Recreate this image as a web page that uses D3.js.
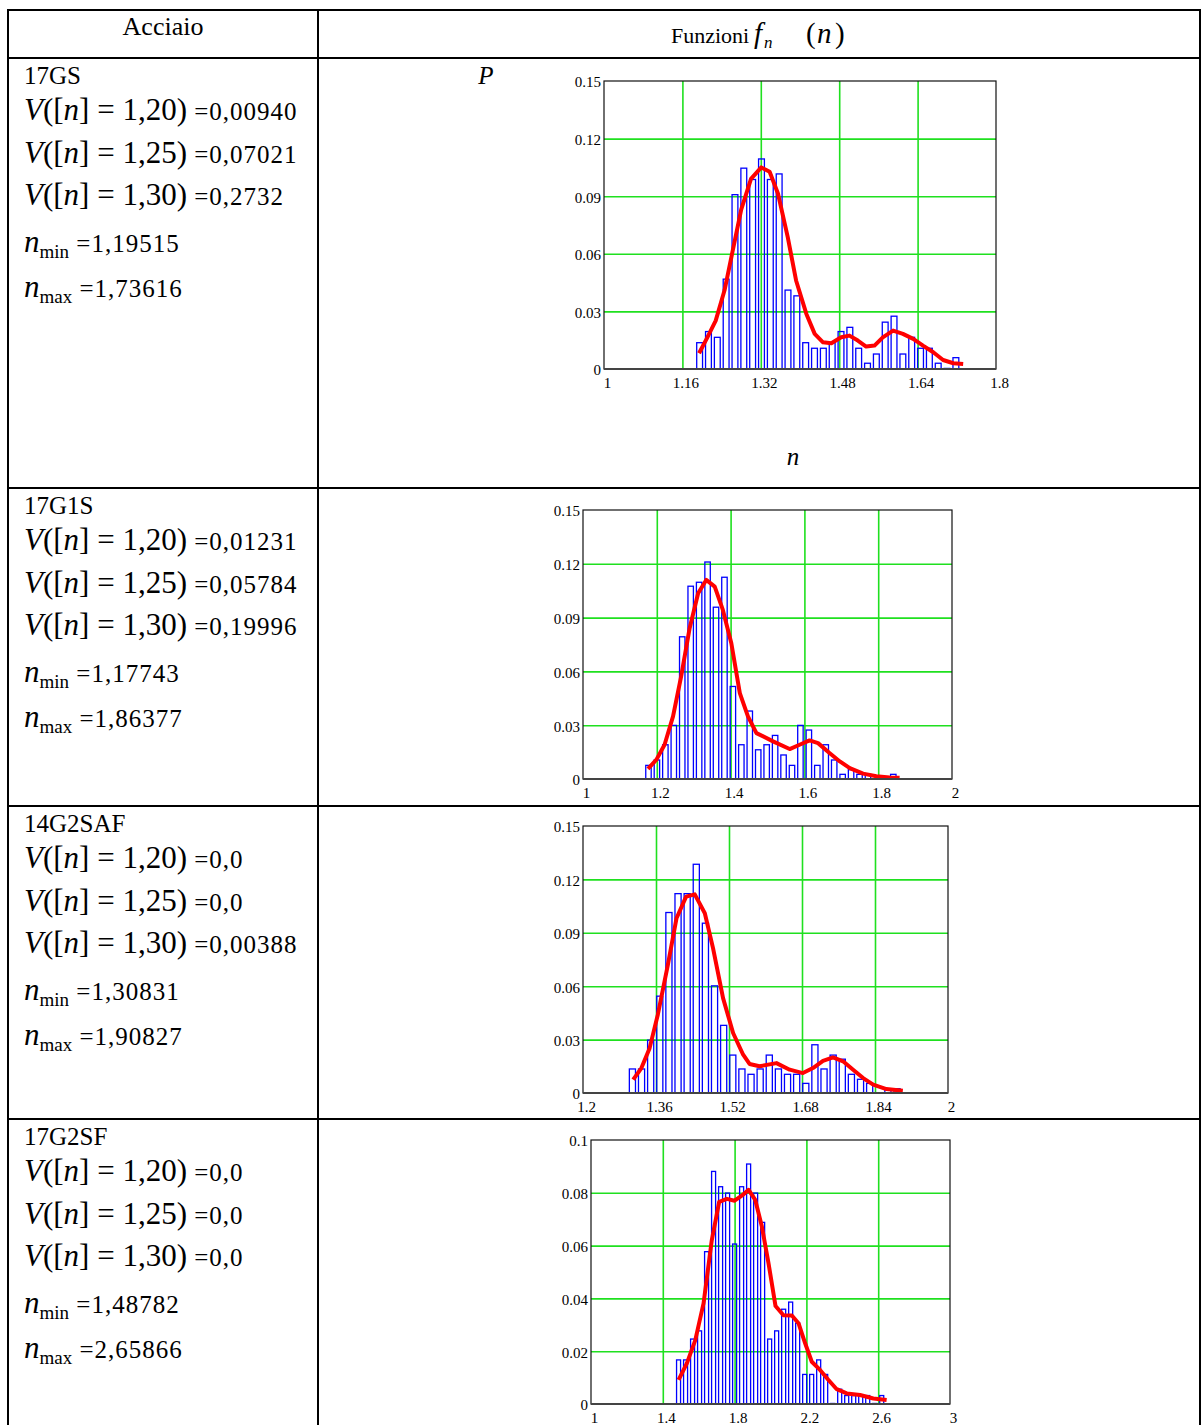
<!DOCTYPE html>
<html>
<head>
<meta charset="utf-8">
<script src="https://cdn.jsdelivr.net/npm/d3@7"></script>
<style>
  body { margin: 0; background: #fff; }
  svg { display: block; }
  text { font-family: "Liberation Serif", "Times New Roman", serif; fill: #000; }
</style>
</head>
<body>
<script>
// ---- data ----
var steels = ["17GS", "17G1S", "14G2SAF", "17G2SF"];
var v120 = ["0,00940", "0,01231", "0,0", "0,0"];
var v125 = ["0,07021", "0,05784", "0,0", "0,0"];
var v130 = ["0,2732", "0,19996", "0,00388", "0,0"];
var nMin = [1.19515, 1.17743, 1.30831, 1.48782];
var nMax = [1.73616, 1.86377, 1.90827, 2.65866];

// histogram heights (30 classes each)
var hist17GS = [0.0137, 0.0195, 0.0165, 0.0468, 0.0908, 0.1046, 0.0987, 0.1094, 0.0987, 0.1016,
  0.0411, 0.0381, 0.0137, 0.0108, 0.0108, 0.0137, 0.0195, 0.0217, 0.0108, 0.0030,
  0.0078, 0.0244, 0.0275, 0.0078, 0.0165, 0.0108, 0.0108, 0.0030, 0.0003, 0.0059];
var hist17G1S = [0.0076, 0.0106, 0.0191, 0.0299, 0.0793, 0.1075, 0.1097, 0.1210, 0.0958, 0.1125,
  0.0516, 0.0191, 0.0379, 0.0163, 0.0191, 0.0243, 0.0134, 0.0076, 0.0299, 0.0273,
  0.0076, 0.0191, 0.0106, 0.0026, 0.0052, 0.0026, 0.0026, 0.0002, 0.0002, 0.0026];
var hist14G2SAF = [0.0135, 0.0135, 0.0297, 0.0544, 0.1014, 0.1120, 0.1120, 0.1285, 0.0954, 0.0602,
  0.0380, 0.0213, 0.0135, 0.0105, 0.0135, 0.0213, 0.0135, 0.0105, 0.0105, 0.0054,
  0.0271, 0.0135, 0.0213, 0.0190, 0.0105, 0.0077, 0.0054, 0.0002, 0.0024, 0.0024];
var hist17G2SF = [0.0167, 0.0167, 0.0246, 0.0277, 0.0577, 0.0881, 0.0823, 0.0799, 0.0606, 0.0823,
  0.0909, 0.0799, 0.0688, 0.0246, 0.0277, 0.0359, 0.0386, 0.0306, 0.0112, 0.0112,
  0.0167, 0.0112, 0.0002, 0.0056, 0.0032, 0.0032, 0.0032, 0.0032, 0.0002, 0.0032];

// smoothed density curves [n, P]
var curve17GS = [[1.194, 0.0082], [1.211, 0.0165], [1.228, 0.0252], [1.246, 0.041], [1.263, 0.062],
  [1.280, 0.083], [1.300, 0.099], [1.321, 0.105], [1.338, 0.1027], [1.355, 0.0914], [1.375, 0.0687],
  [1.392, 0.0461], [1.413, 0.0287], [1.430, 0.0183], [1.447, 0.0139], [1.464, 0.0134], [1.484, 0.0165],
  [1.501, 0.0174], [1.518, 0.0148], [1.535, 0.0117], [1.552, 0.0122], [1.569, 0.0165], [1.590, 0.020],
  [1.610, 0.0183], [1.631, 0.0157], [1.651, 0.0122], [1.672, 0.0087], [1.692, 0.0047], [1.713, 0.003],
  [1.733, 0.0026]];
var curve17G1S = [[1.176, 0.0056], [1.199, 0.0108], [1.221, 0.0191], [1.244, 0.0349], [1.266, 0.0572],
  [1.289, 0.0841], [1.312, 0.1036], [1.334, 0.111], [1.357, 0.1073], [1.379, 0.0943], [1.402, 0.0757],
  [1.425, 0.0479], [1.447, 0.0349], [1.470, 0.0256], [1.515, 0.021], [1.560, 0.0167], [1.587, 0.0191],
  [1.614, 0.0215], [1.637, 0.020], [1.668, 0.0145], [1.696, 0.0098], [1.723, 0.0061], [1.759, 0.003],
  [1.795, 0.0015], [1.831, 0.0009], [1.858, 0.0007]];
var curve14G2SAF = [[1.310, 0.0075], [1.328, 0.014], [1.346, 0.0252], [1.364, 0.044], [1.386, 0.072],
  [1.405, 0.0982], [1.426, 0.1103], [1.445, 0.1116], [1.467, 0.101], [1.485, 0.0814], [1.507, 0.0533],
  [1.529, 0.0337], [1.551, 0.0215], [1.565, 0.0163], [1.587, 0.015], [1.624, 0.0168], [1.653, 0.0131],
  [1.682, 0.0112], [1.704, 0.014], [1.726, 0.0181], [1.748, 0.020], [1.770, 0.0178], [1.792, 0.0131],
  [1.814, 0.0084], [1.836, 0.0047], [1.865, 0.0022], [1.901, 0.0013]];
var curve17G2SF = [[1.488, 0.0091], [1.534, 0.0154], [1.581, 0.0242], [1.627, 0.0381], [1.673, 0.0621],
  [1.714, 0.0766], [1.757, 0.0777], [1.800, 0.077], [1.840, 0.0789], [1.878, 0.0811], [1.915, 0.0773],
  [1.952, 0.0672], [1.989, 0.0533], [2.028, 0.0371], [2.072, 0.0336], [2.119, 0.0335], [2.156, 0.0306],
  [2.193, 0.023], [2.230, 0.016], [2.276, 0.0129], [2.323, 0.0091], [2.369, 0.0056], [2.425, 0.004],
  [2.499, 0.0034], [2.573, 0.0021], [2.647, 0.0015]];

var xTicks1 = [1, 1.16, 1.32, 1.48, 1.64, 1.8];
var xTicks2 = [1, 1.2, 1.4, 1.6, 1.8, 2];
var xTicks3 = [1.2, 1.36, 1.52, 1.68, 1.84, 2];
var xTicks4 = [1, 1.4, 1.8, 2.2, 2.6, 3];
var yTicks15 = [0, 0.03, 0.06, 0.09, 0.12, 0.15];
var yTicks10 = [0, 0.02, 0.04, 0.06, 0.08, 0.1];

var hists = [hist17GS, hist17G1S, hist14G2SAF, hist17G2SF];
var curves = [curve17GS, curve17G1S, curve14G2SAF, curve17G2SF];
var xTickSets = [xTicks1, xTicks2, xTicks3, xTicks4];
var yTickSets = [yTicks15, yTicks15, yTicks15, yTicks10];

// ---- layout ----
var W = 1201, H = 1425;
var colL = 8, colM = 318, colR = 1200;
var rowTops = [58, 488, 806, 1119];
var boxes = [
  {l: 604, r: 996, t: 81, b: 369},
  {l: 583, r: 952, t: 510, b: 779},
  {l: 583, r: 948, t: 826, b: 1093},
  {l: 591, r: 950, t: 1140, b: 1404}
];

var svg = d3.select("body").append("svg")
  .attr("width", W)
  .attr("height", H);

var fmt = d3.format("~g");
var commaFmt = function(v){ return d3.format(".5f")(v).replace(".", ","); };

// ---- charts ----
boxes.forEach(function(b, k){
  var g = svg.append("g");
  var xt = xTickSets[k], yt = yTickSets[k];
  var x = d3.scaleLinear().domain([xt[0], xt[xt.length - 1]]).range([b.l, b.r]);
  var y = d3.scaleLinear().domain([yt[0], yt[yt.length - 1]]).range([b.b, b.t]);

  // grid
  g.append("g")
    .attr("transform", "translate(0," + b.b + ")")
    .call(d3.axisBottom(x).tickValues(xt.slice(1, -1)).tickSize(-(b.b - b.t)).tickFormat(""))
    .call(function(s){ s.select(".domain").remove(); })
    .selectAll("line").attr("stroke", "#1fe01f").attr("stroke-width", 1.6);
  g.append("g")
    .attr("transform", "translate(" + b.l + ",0)")
    .call(d3.axisLeft(y).tickValues(yt.slice(1, -1)).tickSize(-(b.r - b.l)).tickFormat(""))
    .call(function(s){ s.select(".domain").remove(); })
    .selectAll("line").attr("stroke", "#1fe01f").attr("stroke-width", 1.6);

  // bars: class i centred at nMin + i*width
  var hist = hists[k];
  var bin = (nMax[k] - nMin[k]) / hist.length;
  var bw = Math.max(2, x(xt[0] + bin) - x(xt[0]) - 3);
  g.selectAll("rect.bar")
    .data(hist)
    .join("rect")
    .attr("class", "bar")
    .attr("x", function(d, i){ return x(nMin[k] + i * bin) - bw / 2; })
    .attr("y", function(d){ return y(d); })
    .attr("width", bw)
    .attr("height", function(d){ return y(0) - y(d); })
    .attr("fill", "none")
    .attr("stroke", "#0000ff")
    .attr("stroke-width", 1.3);

  // curve
  g.append("path")
    .datum(curves[k])
    .attr("d", d3.line().x(function(d){ return x(d[0]); }).y(function(d){ return y(d[1]); }))
    .attr("fill", "none")
    .attr("stroke", "#ff0000")
    .attr("stroke-width", 4)
    .attr("stroke-linejoin", "round");

  // frame
  g.append("rect")
    .attr("x", b.l).attr("y", b.t)
    .attr("width", b.r - b.l).attr("height", b.b - b.t)
    .attr("fill", "none").attr("stroke", "#111").attr("stroke-width", 1.2);
  g.append("line")
    .attr("x1", b.l).attr("x2", b.r).attr("y1", b.b).attr("y2", b.b)
    .attr("stroke", "#444").attr("stroke-width", 2);

  // tick labels
  var ax = g.append("g")
    .attr("transform", "translate(3," + b.b + ")")
    .call(d3.axisBottom(x).tickValues(xt).tickSize(0).tickPadding(8).tickFormat(fmt));
  ax.select(".domain").remove();
  ax.selectAll("text").style("font-size", "15px").style("font-family", "Liberation Serif, serif");

  var ay = g.append("g")
    .attr("transform", "translate(" + b.l + ",1)")
    .call(d3.axisLeft(y).tickValues(yt).tickSize(0).tickPadding(3).tickFormat(fmt));
  ay.select(".domain").remove();
  ay.selectAll("text").style("font-size", "15px").style("font-family", "Liberation Serif, serif");
});

// axis titles of the first chart
svg.append("text").attr("x", 486).attr("y", 84).attr("text-anchor", "middle")
  .style("font-size", "25px").style("font-style", "italic").text("P");
svg.append("text").attr("x", 793).attr("y", 465).attr("text-anchor", "middle")
  .style("font-size", "25px").style("font-style", "italic").text("n");

// ---- table lines ----
var hLines = [10].concat(rowTops);
svg.selectAll("line.h").data(hLines).join("line").attr("class", "h")
  .attr("x1", colL - 1).attr("x2", W).attr("y1", function(d){ return d; }).attr("y2", function(d){ return d; })
  .attr("stroke", "#000").attr("stroke-width", 2);
svg.selectAll("line.v").data([colL, colM, colR]).join("line").attr("class", "v")
  .attr("x1", function(d){ return d; }).attr("x2", function(d){ return d; })
  .attr("y1", 9).attr("y2", H)
  .attr("stroke", "#000").attr("stroke-width", 2);

// header
svg.append("text").attr("x", 163).attr("y", 35).attr("text-anchor", "middle")
  .style("font-size", "26px").text("Acciaio");
var hdr = svg.append("text").attr("y", 43);
hdr.append("tspan").attr("x", 671).style("font-size", "22px").text("Funzioni");
hdr.append("tspan").attr("x", 754).style("font-size", "29px").style("font-style", "italic").text("f");
hdr.append("tspan").attr("x", 764).attr("dy", 5).style("font-size", "17px").style("font-style", "italic").text("n");
hdr.append("tspan").attr("x", 806).attr("dy", -5).style("font-size", "29px").text("(");
hdr.append("tspan").attr("x", 817).style("font-size", "29px").style("font-style", "italic").text("n");
hdr.append("tspan").attr("x", 835).style("font-size", "29px").text(")");

// ---- left column ----
var labels = ["1,20", "1,25", "1,30"];
rowTops.forEach(function(top, k){
  svg.append("text").attr("x", 24).attr("y", top + 26).style("font-size", "25px").text(steels[k]);
  [v120[k], v125[k], v130[k]].forEach(function(val, j){
    var t = svg.append("text").attr("x", 24).attr("y", top + 62 + j * 42.5);
    t.append("tspan").style("font-size", "31px").style("font-style", "italic").text("V");
    t.append("tspan").style("font-size", "31px").text("([");
    t.append("tspan").style("font-size", "31px").style("font-style", "italic").text("n");
    t.append("tspan").style("font-size", "31px").text("] = " + labels[j] + ")");
    t.append("tspan").style("font-size", "25px").style("letter-spacing", "1px").text(" =" + val);
  });
  [["min", nMin[k]], ["max", nMax[k]]].forEach(function(p, j){
    var t = svg.append("text").attr("x", 24).attr("y", top + 194 + j * 45);
    t.append("tspan").style("font-size", "31px").style("font-style", "italic").text("n");
    t.append("tspan").style("font-size", "19px").attr("dy", 6).text(p[0]);
    t.append("tspan").style("font-size", "25px").style("letter-spacing", "1px").attr("dy", -6).text(" =" + commaFmt(p[1]));
  });
});
</script>
</body>
</html>
